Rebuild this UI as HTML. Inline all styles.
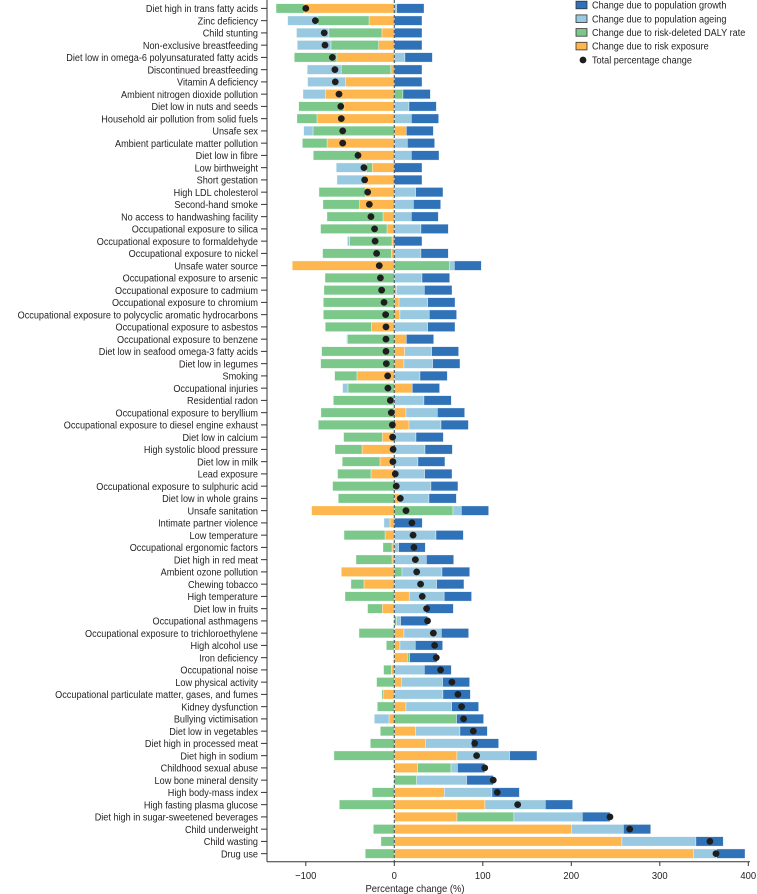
<!DOCTYPE html>
<html><head><meta charset="utf-8"><style>
html,body{margin:0;padding:0;background:#fff;}
svg{display:block;font-family:"Liberation Sans",sans-serif;}
</style></head><body>
<svg id="chart" width="757" height="894" viewBox="0 0 757 894" xmlns="http://www.w3.org/2000/svg"></svg>
<script>
const categories = ["Diet high in trans fatty acids","Zinc deficiency","Child stunting","Non-exclusive breastfeeding","Diet low in omega-6 polyunsaturated fatty acids","Discontinued breastfeeding","Vitamin A deficiency","Ambient nitrogen dioxide pollution","Diet low in nuts and seeds","Household air pollution from solid fuels","Unsafe sex","Ambient particulate matter pollution","Diet low in fibre","Low birthweight","Short gestation","High LDL cholesterol","Second-hand smoke","No access to handwashing facility","Occupational exposure to silica","Occupational exposure to formaldehyde","Occupational exposure to nickel","Unsafe water source","Occupational exposure to arsenic","Occupational exposure to cadmium","Occupational exposure to chromium","Occupational exposure to polycyclic aromatic hydrocarbons","Occupational exposure to asbestos","Occupational exposure to benzene","Diet low in seafood omega-3 fatty acids","Diet low in legumes","Smoking","Occupational injuries","Residential radon","Occupational exposure to beryllium","Occupational exposure to diesel engine exhaust","Diet low in calcium","High systolic blood pressure","Diet low in milk","Lead exposure","Occupational exposure to sulphuric acid","Diet low in whole grains","Unsafe sanitation","Intimate partner violence","Low temperature","Occupational ergonomic factors","Diet high in red meat","Ambient ozone pollution","Chewing tobacco","High temperature","Diet low in fruits","Occupational asthmagens","Occupational exposure to trichloroethylene","High alcohol use","Iron deficiency","Occupational noise","Low physical activity","Occupational particulate matter, gases, and fumes","Kidney dysfunction","Bullying victimisation","Diet low in vegetables","Diet high in processed meat","Diet high in sodium","Childhood sexual abuse","Low bone mineral density","High body-mass index","High fasting plasma glucose","Diet high in sugar-sweetened beverages","Child underweight","Child wasting","Drug use"];
const exposure = [-102,-28.6,-14,-17.7,-65,-4,-55,-77.6,-57,-87.4,13.6,-76,-39.5,-24.9,-33.9,-32.4,-39.2,-12.8,-8.3,-2.6,-3.4,-115.3,0,2.3,5.3,6.4,-26,13.6,11.7,10.9,-42.2,20.3,0,13.2,16.6,-13.6,-36.5,-16.2,-26.4,0,5.3,-93.4,-4.9,-10.5,-2.6,-2.6,-59.9,-34.3,16.9,-13.6,0,10.9,6.4,14.7,-3.4,7.9,-12.1,13.2,-6,24.1,35.4,70.8,26.4,0,56.5,102.4,70.8,200,257.2,337.9];
const daly = [-31.6,-58,-60,-53.9,-48,-56,0,9.8,-51,-22.6,-91.9,-27.9,-52,-6.8,0,-52.7,-41.4,-63.3,-75,-47.8,-77.6,62.5,-78.3,-79.5,-80.2,-80.2,-52,-53.1,-82.1,-83.2,-25.2,-52.4,-68.9,-82.9,-85.9,-43.7,-30.5,-42.6,-37.7,-69.7,-63.3,66.3,0,-46.3,-10.2,-40.7,8.7,-14.7,-55.7,-16.6,2.6,-39.9,-9,2.6,-8.7,-20,-1.9,-19.2,70.4,-15.8,-27.1,-68.2,37.7,25.2,-24.9,-62.1,64.4,-23.7,-15.1,-32.8];
const ageing = [2.6,-33.9,-36.5,-38,12,-38.4,-43,-25.6,16.6,19.2,-10.5,14.7,19.2,-33.9,-30.9,24.1,21.5,19.2,30.1,-2.6,30.1,5.3,31.3,31.6,32.4,33.1,37.7,-0.8,30.5,32.4,29,-6,33.5,35.4,36.2,24.5,34.7,26.7,34.3,41.4,33.9,9.4,-6.8,47.1,4.9,36.2,45.2,47.8,39.5,35.8,4.5,42.2,17.3,-0.8,33.9,46.7,55,51.6,-16.6,50.1,51.6,59.5,7.2,56.5,53.9,68.2,77.2,58.8,83.6,26.4];
const growth = [31,31.3,31.3,31.3,31,31.3,31.3,30.9,30.9,30.9,30.5,30.9,31.3,31.3,31.3,30.9,30.9,30.5,30.9,31.3,30.9,30.5,31.3,31.3,30.9,30.9,30.9,30.9,30.5,30.9,30.9,30.9,30.9,30.9,30.9,30.9,30.9,30.5,30.9,30.5,30.9,30.9,31.6,30.9,30.1,30.9,31.3,30.9,30.9,30.9,30.5,30.9,30.9,30.9,30.5,30.5,30.9,30.5,30.5,30.9,30.9,30.9,30.9,30.1,30.9,30.9,31.3,30.9,30.9,32];
const xTicks = [-100,0,100,200,300,400];

const svg = document.getElementById('chart');
const NS = 'http://www.w3.org/2000/svg';
const X0 = 394.3, PX = 0.885;
const xs = v => X0 + v * PX;
const ys = i => 8.4 + i * 12.25;
const BH = 9.4;
const colors = {exposure:'#fdb74e', daly:'#7bc88a', ageing:'#98c9e0', growth:'#3072b8'};
function mk(tag, attrs, parent){const e=document.createElementNS(NS,tag);for(const k in attrs)e.setAttribute(k,attrs[k]);(parent||svg).appendChild(e);return e;}

const barsG = mk('g',{});


const series = [['exposure',exposure],['daly',daly],['ageing',ageing],['growth',growth]];
categories.forEach((c,i)=>{
  let pos=0, neg=0;
  series.forEach(([key,arr])=>{
    const v = arr[i]; if(!v) return;
    let a,b;
    if(v>0){a=pos;b=pos+v;pos=b;} else {a=neg+v;b=neg;neg=a;}
    const r = mk('rect',{x:xs(a),y:ys(i)-BH/2,width:Math.max(0,xs(b)-xs(a)),height:BH,fill:colors[key],stroke:'rgba(255,255,255,0.6)','stroke-width':0.6},barsG);
    
    
  });
});
const zl = mk('line',{x1:X0,x2:X0,y1:0,y2:861.7,stroke:'#4a5a66','stroke-width':1.1,'stroke-dasharray':'3,2'});


categories.forEach((c,i)=>{
  const t = exposure[i]+daly[i]+ageing[i]+growth[i];
  const d = mk('circle',{cx:xs(t),cy:ys(i),r:3.4,fill:'#1e1e1e'});
  
  
});
const ya = mk('line',{x1:267,x2:267,y1:0,y2:861.7,stroke:'#333','stroke-width':1});


categories.forEach((c,i)=>{
  mk('line',{x1:261,x2:267,y1:ys(i),y2:ys(i),stroke:'#333','stroke-width':1});
  const t = mk('text',{transform:`translate(258,${ys(i)+3.6}) scale(0.87,1)`,'text-anchor':'end','font-size':10.5,fill:'#231f20'});
  t.textContent = c;
  
  
});
const xa = mk('line',{x1:267,x2:750,y1:861.7,y2:861.7,stroke:'#333','stroke-width':1});


xTicks.forEach(v=>{
  mk('line',{x1:xs(v),x2:xs(v),y1:861.7,y2:866,stroke:'#333','stroke-width':1});
  const t = mk('text',{transform:`translate(${xs(v)},879) scale(0.9,1)`,'text-anchor':'middle','font-size':10.5,fill:'#231f20'});
  t.textContent = v<0 ? '\u2212'+Math.abs(v) : String(v);
  
  
});
const xt = mk('text',{transform:'translate(415,892) scale(0.9,1)','text-anchor':'middle','font-size':10.5,fill:'#231f20'});
xt.textContent = 'Percentage change (%)';


const leg = mk('g',{});


const legItems = [['Change due to population growth',colors.growth],['Change due to population ageing',colors.ageing],['Change due to risk-deleted DALY rate',colors.daly],['Change due to risk exposure',colors.exposure]];
legItems.forEach((it,k)=>{
  const y = 5 + k*13.7;
  const r = mk('rect',{x:576,y:y-3.8,width:11,height:7.6,fill:it[1],stroke:'#333','stroke-width':0.8},leg);
  
  
  const t = mk('text',{transform:`translate(592,${y+3.6}) scale(0.87,1)`,'font-size':10.5,fill:'#231f20'},leg);
  t.textContent = it[0];
  
  
});
const ld = mk('circle',{cx:583,cy:60,r:3.4,fill:'#1e1e1e'},leg);


const lt = mk('text',{transform:'translate(592,63.6) scale(0.87,1)','font-size':10.5,fill:'#231f20'},leg);
lt.textContent = 'Total percentage change';


</script>
</body></html>
